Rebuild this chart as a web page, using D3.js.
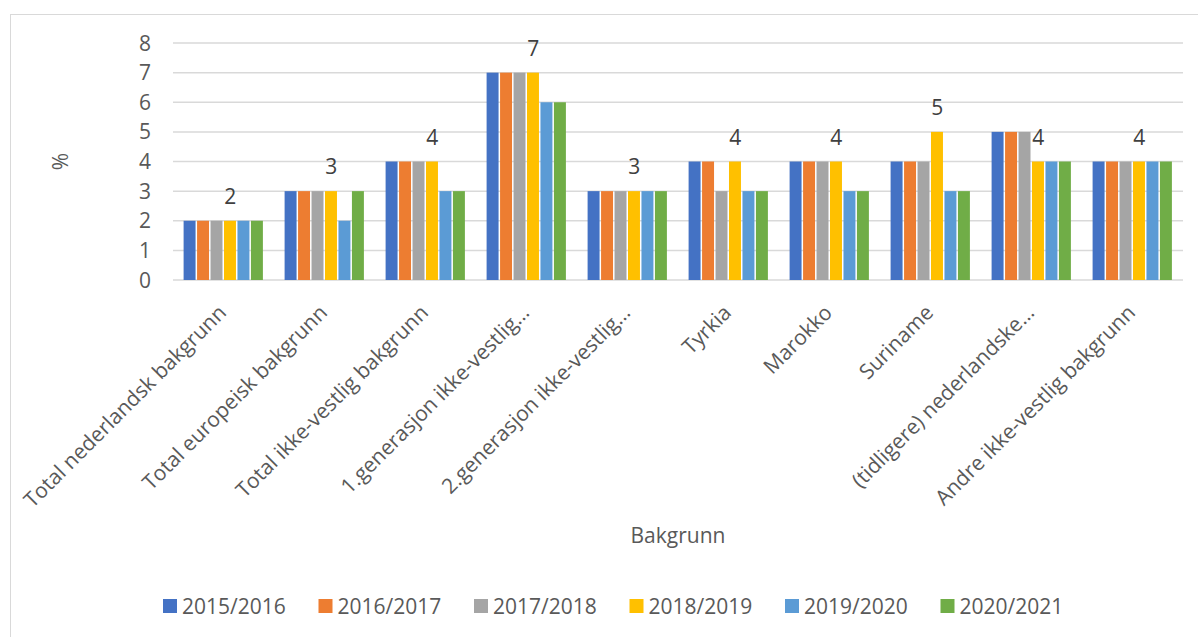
<!DOCTYPE html>
<html>
<head>
<meta charset="utf-8">
<script src="https://cdn.jsdelivr.net/npm/d3@7"></script>
<style>
  body { margin: 0; background: #fff; }
  text { font-family: "Open Sans", sans-serif; }
</style>
</head>
<body>
<script>
var width = 1198, height = 637

// categories as shown on the axis (long ones truncated like the original)
var categories = [
  "Total nederlandsk bakgrunn",
  "Total europeisk bakgrunn",
  "Total ikke-vestlig bakgrunn",
  "1.generasjon ikke-vestlig…",
  "2.generasjon ikke-vestlig…",
  "Tyrkia",
  "Marokko",
  "Suriname",
  "(tidligere) nederlandske…",
  "Andre ikke-vestlig bakgrunn"
]
var seriesNames = ["2015/2016", "2016/2017", "2017/2018", "2018/2019", "2019/2020", "2020/2021"]
var colors = ["#4472C4", "#ED7D31", "#A5A5A5", "#FFC000", "#5B9BD5", "#70AD47"]

// one array per series, values in %
var s2015 = [2, 3, 4, 7, 3, 4, 4, 4, 5, 4]
var s2016 = [2, 3, 4, 7, 3, 4, 4, 4, 5, 4]
var s2017 = [2, 3, 4, 7, 3, 3, 4, 4, 5, 4]
var s2018 = [2, 3, 4, 7, 3, 4, 4, 5, 4, 4]
var s2019 = [2, 2, 3, 6, 3, 3, 3, 3, 4, 4]
var s2020 = [2, 3, 3, 6, 3, 3, 3, 3, 4, 4]
var seriesValues = [s2015, s2016, s2017, s2018, s2019, s2020]
var yTicks = [0, 1, 2, 3, 4, 5, 6, 7, 8]
var labelSeries = 3 // data labels only on 2018/2019

var plot = {left: 173, right: 1183, top: 43, bottom: 280}
var fontSize = "21px"

var svg = d3.select("body")
.append("svg")
.attr("width", width)
.attr("height", height)

// chart border
svg.append("rect")
	.attr("x", 10.5)
	.attr("y", 14.5)
	.attr("width", 1300)
	.attr("height", 700)
	.attr("fill", "#fff")
	.attr("stroke", "#d9d9d9")
	.attr("stroke-width", 1)

var x0 = d3.scaleBand()
	.domain(categories)
	.range([plot.left, plot.right])
	.paddingInner(0.2)
	.paddingOuter(0.1)

var x1 = d3.scaleBand()
	.domain(d3.range(seriesNames.length))
	.range([0, x0.bandwidth()])

var y = d3.scaleLinear()
	.domain([0, 8])
	.range([plot.bottom, plot.top])

// gridlines
svg.append("g")
	.selectAll("line")
	.data(yTicks)
	.enter()
	.append("line")
	.attr("x1", plot.left)
	.attr("x2", plot.right)
	.attr("y1", function(d) { return y(d) })
	.attr("y2", function(d) { return y(d) })
	.attr("stroke", "#d9d9d9")
	.attr("stroke-width", 1.5)

// y tick labels
svg.append("g")
	.selectAll("text")
	.data(yTicks)
	.enter()
	.append("text")
	.attr("x", 151)
	.attr("y", function(d) { return y(d) })
	.attr("dy", "0.36em")
	.attr("text-anchor", "end")
	.attr("fill", "#595959")
	.style("font-size", fontSize)
	.text(function(d) { return d })

// y axis title
svg.append("text")
	.attr("transform", "translate(68," + ((plot.top + plot.bottom) / 2) + ") rotate(-90)")
	.attr("text-anchor", "middle")
	.attr("fill", "#595959")
	.style("font-size", fontSize)
	.text("%")

// bars
var groups = svg.append("g")
	.selectAll("g")
	.data(categories)
	.enter()
	.append("g")
	.attr("transform", function(d) { return "translate(" + x0(d) + ",0)" })

groups.each(function(cat, ci) {
	d3.select(this).selectAll("rect")
	.data(seriesValues.map(function(s, si) { return {si: si, v: s[ci]} }))
	.enter()
	.append("rect")
	.attr("x", function(d) { return x1(d.si) + 0.5 })
	.attr("width", x1.bandwidth() - 1.5)
	.attr("y", function(d) { return y(d.v) })
	.attr("height", function(d) { return y(0) - y(d.v) })
	.attr("fill", function(d) { return colors[d.si] })
})

// data labels (2018/2019)
svg.append("g")
	.selectAll("text")
	.data(categories)
	.enter()
	.append("text")
	.attr("x", function(d) { return x0(d) + x1(labelSeries) + x1.bandwidth() / 2 })
	.attr("y", function(d, i) { return y(seriesValues[labelSeries][i]) - 17 })
	.attr("text-anchor", "middle")
	.attr("fill", "#404040")
	.style("font-size", fontSize)
	.text(function(d, i) { return seriesValues[labelSeries][i] })

// category labels, rotated
svg.append("g")
	.selectAll("text")
	.data(categories)
	.enter()
	.append("text")
	.attr("transform", function(d) {
		return "translate(" + (x0(d) + x0.bandwidth() / 2 + 4) + ",314) rotate(-45)"
	})
	.attr("text-anchor", "end")
	.attr("fill", "#595959")
	.style("font-size", fontSize)
	.text(function(d) { return d })

// x axis title
svg.append("text")
	.attr("x", (plot.left + plot.right) / 2)
	.attr("y", 543)
	.attr("text-anchor", "middle")
	.attr("fill", "#595959")
	.style("font-size", fontSize)
	.text("Bakgrunn")

// legend
var legendStep = 155.5
var legendStart = 163
var legend = svg.append("g")
	.selectAll("g")
	.data(seriesNames)
	.enter()
	.append("g")
	.attr("transform", function(d, i) { return "translate(" + (legendStart + i * legendStep) + ",599)" })

legend.append("rect")
	.attr("width", 14)
	.attr("height", 14)
	.attr("fill", function(d, i) { return colors[i] })

legend.append("text")
	.attr("x", 19)
	.attr("y", 7)
	.attr("dy", "0.36em")
	.attr("fill", "#595959")
	.style("font-size", fontSize)
	.text(function(d) { return d })
</script>
</body>
</html>
